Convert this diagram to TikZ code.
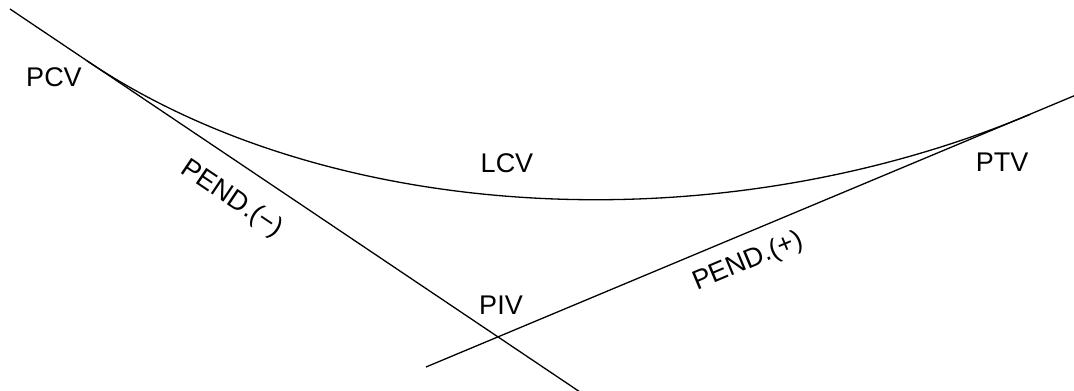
\documentclass[tikz,border=0pt]{standalone}
\usepackage{fontspec}
\setmainfont{Liberation Sans}
\usetikzlibrary{calc}
\tikzset{lbl/.style={font=\fontsize{27}{30}\selectfont,inner sep=0pt}}
\begin{document}
\begin{tikzpicture}[x=1pt,y=-1pt,line width=1.3pt]
\useasboundingbox (0,0) rectangle (1074,391);
\coordinate (a1) at (10,9);
\coordinate (a2) at (580,392);
\coordinate (b1) at (426,367);
\coordinate (b2) at (1076,95);
\coordinate (pcv) at (87,60.8);
\coordinate (piv) at (497.7,336.9);
\coordinate (ptv) at (1030,114.4);

\draw (a1) -- (a2);
\draw (b1) -- (b2);
\draw (pcv) .. controls ($(pcv)!0.59!(piv)$) and ($(ptv)!0.59!(piv)$) .. (ptv);

\node[lbl] (tpcv) at (54,77) {PCV};
\node[lbl] (tlcv) at (507,163) {LCV};
\node[lbl] (tptv) at (1002,162) {PTV};
\node[lbl] (tpiv) at (501,305) {PIV};
\node[lbl,rotate=-33.9] (tneg) at (232,199) {PEND.(−)};
\node[lbl,rotate=22.7] (tpos) at (748,262) {PEND.(+)};
\end{tikzpicture}
\end{document}
